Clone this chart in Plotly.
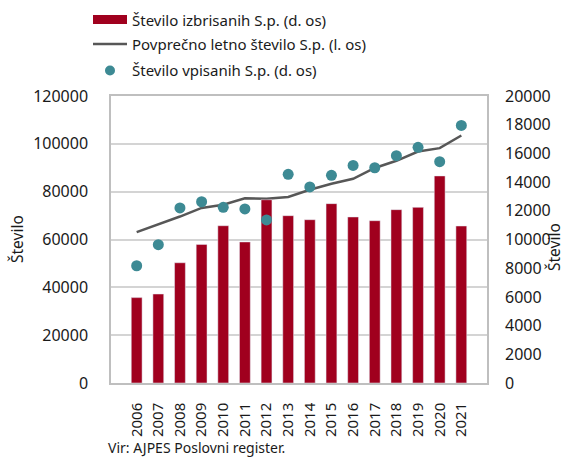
import plotly.graph_objects as go

# Data
years = [str(y) for y in range(2006, 2022)]
izbrisani = [5950, 6200, 8380, 9660, 10960, 9830, 12770, 11660, 11380, 12500,
             11570, 11310, 12080, 12240, 14430, 10940]
vpisani = [8170, 9640, 12200, 12630, 12240, 12130, 11360, 14540, 13660, 14470,
           15160, 15000, 15840, 16420, 15420, 17950]
povprecno = [63100, 66200, 69600, 73200, 74500, 77200, 77000, 77800, 80800, 83300,
             85400, 89900, 92900, 96800, 98200, 103500]

left_ticks = [0, 20000, 40000, 60000, 80000, 100000, 120000]
right_ticks = list(range(0, 20001, 2000))

BAR = "#A0001E"
DOT = "#3D8A94"
LINE = "#575757"
GRID = "#D4D4D4"
FONT = "Noto Sans"
W, H = 565, 457
L, R, T, B = 111, 78, 96, 74

fig = go.Figure()
fig.add_trace(go.Bar(x=years, y=izbrisani, yaxis="y2", marker_color=BAR,
                     width=0.5, showlegend=False))
fig.add_trace(go.Scatter(x=years, y=povprecno, yaxis="y", mode="lines",
                         line=dict(color=LINE, width=2.5), showlegend=False))
fig.add_trace(go.Scatter(x=years, y=vpisani, yaxis="y2", mode="markers",
                         marker=dict(color=DOT, size=11), showlegend=False))

y_font = dict(family=FONT, size=16, color="#1a1a1a")
x_font = dict(family=FONT, size=15, color="#1a1a1a")
fig.update_layout(
    width=W, height=H,
    margin=dict(l=L, r=R, t=T, b=B, pad=0),
    paper_bgcolor="white", plot_bgcolor="white",
    font=dict(family=FONT, color="#1a1a1a"),
    xaxis=dict(type="category", tickangle=-90, tickfont=x_font,
               showline=True, linecolor="#BFBFBF", linewidth=1.5, mirror=True,
               ticks="", ticklabelstandoff=12),
    yaxis=dict(range=[0, 120000], tickvals=left_ticks, tickfont=y_font,
               showgrid=True, gridcolor=GRID, gridwidth=1.5, zeroline=False,
               showline=True, linecolor="#BFBFBF", linewidth=1.5, mirror=True,
               ticks="", ticklabelstandoff=18, tickformat="d"),
    yaxis2=dict(range=[0, 20000], tickvals=right_ticks, tickfont=y_font,
                overlaying="y", side="right", showgrid=False, zeroline=False,
                ticks="", ticklabelstandoff=17, tickformat="d"),
    bargap=0.5,
)

def px(x):
    return (x - L) / (W - L - R)

def py(y):
    return (H - B - y) / (H - T - B)

# Legend
legend_font = dict(family=FONT, size=15, color="#1a1a1a")
fig.add_shape(type="rect", xref="paper", yref="paper",
              x0=px(93), x1=px(127), y0=py(24), y1=py(15),
              fillcolor=BAR, line_width=0)
fig.add_shape(type="line", xref="paper", yref="paper",
              x0=px(93), x1=px(127), y0=py(44), y1=py(44),
              line=dict(color=LINE, width=2.5))
fig.add_shape(type="circle", xref="paper", yref="paper",
              x0=px(105), x1=px(115), y0=py(75.5), y1=py(65.5),
              fillcolor=DOT, line_width=0)
labels = ["Število izbrisanih S.p. (d. os)",
          "Povprečno letno število S.p. (l. os)",
          "Število vpisanih S.p. (d. os)"]
for lab, yy in zip(labels, [19.5, 44, 70]):
    fig.add_annotation(text=lab, xref="paper", yref="paper", x=px(130), y=py(yy),
                       xanchor="left", yanchor="middle", showarrow=False,
                       font=legend_font)

# Axis titles
title_font = dict(family=FONT, size=15.5, color="#1a1a1a")
for xx, yy in [(17, 239), (554, 247)]:
    fig.add_annotation(text="Število", xref="paper", yref="paper", x=px(xx), y=py(yy),
                       xanchor="center", yanchor="middle", textangle=-90,
                       showarrow=False, font=title_font)

# Source
fig.add_annotation(text="Vir: AJPES Poslovni register.", xref="paper", yref="paper",
                   x=px(106), y=py(447), xanchor="left", yanchor="middle",
                   showarrow=False, font=dict(family=FONT, size=14, color="#1a1a1a"))

fig.write_html("out.html")
